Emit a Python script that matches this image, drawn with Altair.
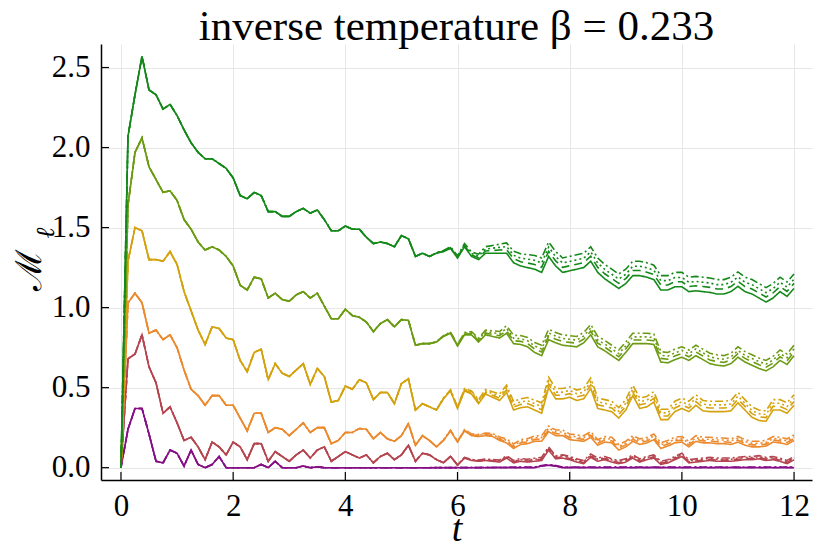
import altair as alt
import numpy as np
import pandas as pd

# time grid (dt = 0.125, 0..12)
dt = 0.125
n_steps = 97
times = [round(k * dt, 4) for k in range(n_steps)]

purple = [0, 0.24, 0.37, 0.37, 0.21, 0.04, 0.03, 0.11, 0.09, 0.01, 0.11, 0.02, 0, 0.02, 0.07, 0, 0, 0, 0, 0,
          0.02, 0, 0.04, 0, 0, 0, 0.01, 0, 0.005, 0, 0, 0, 0, 0,
          0, 0, 0, 0, 0, 0, 0, 0, 0, 0, 0, 0, 0, 0, 0,
          0, 0, 0, 0, 0, 0, 0, 0, 0, 0, 0, 0.01, 0.015, 0.01, 0, 0,
          0, 0, 0, 0, 0, 0, 0, 0, 0, 0, 0, 0, 0, 0, 0, 0, 0,
          0, 0, 0, 0, 0, 0, 0, 0, 0, 0, 0, 0, 0, 0, 0]

rose = [0, 0.68, 0.71, 0.83, 0.63, 0.53, 0.34, 0.38, 0.28, 0.17, 0.19, 0.13, 0.05, 0.16, 0.13, 0.08, 0.16, 0.13,
        0.05, 0.15, 0.15, 0.04, 0.10, 0.07, 0.04, 0.08, 0.11, 0.06, 0.11, 0.13, 0.04, 0.07, 0.10, 0.08,
        0.06, 0.08, 0.03, 0.07, 0.09, 0.05, 0.08, 0.14, 0.04, 0.09, 0.08, 0.05, 0.03, 0.07, 0.015,
        0.06, 0.045, 0.04, 0.045, 0.04, 0.035, 0.06, 0.03, 0.04, 0.035, 0.04, 0.045, 0.11, 0.055, 0.06, 0.05,
        0.035, 0.025, 0.065, 0.04, 0.05, 0.035, 0.025, 0.035, 0.06, 0.035, 0.05, 0.06, 0.02, 0.03, 0.05, 0.07, 0.03,
        0.035, 0.04, 0.045, 0.04, 0.04, 0.04, 0.045, 0.05, 0.05, 0.055, 0.045, 0.05, 0.04, 0.025, 0.05]

orange = [0, 1.03, 1.09, 1.03, 0.84, 0.86, 0.80, 0.83, 0.75, 0.61, 0.49, 0.45, 0.39, 0.45, 0.45, 0.39, 0.39, 0.31,
          0.23, 0.34, 0.34, 0.22, 0.25, 0.24, 0.20, 0.24, 0.28, 0.22, 0.25, 0.25, 0.15, 0.17, 0.22, 0.22,
          0.245, 0.24, 0.18, 0.22, 0.18, 0.165, 0.20, 0.275, 0.14, 0.20, 0.17, 0.13, 0.17, 0.23, 0.16,
          0.23, 0.20, 0.195, 0.20, 0.195, 0.17, 0.155, 0.12, 0.145, 0.15, 0.165, 0.165, 0.225, 0.20, 0.20, 0.175,
          0.17, 0.165, 0.19, 0.14, 0.16, 0.155, 0.11, 0.13, 0.165, 0.145, 0.155, 0.175, 0.12, 0.135, 0.155, 0.16, 0.13,
          0.165, 0.155, 0.155, 0.15, 0.15, 0.145, 0.16, 0.14, 0.13, 0.13, 0.135, 0.16, 0.155, 0.145, 0.17]

gold = [0, 1.29, 1.50, 1.48, 1.30, 1.30, 1.29, 1.35, 1.27, 1.10, 0.98, 0.86, 0.77, 0.88, 0.87, 0.81, 0.80, 0.67,
        0.60, 0.72, 0.74, 0.55, 0.65, 0.59, 0.57, 0.61, 0.65, 0.52, 0.62, 0.57, 0.41, 0.42, 0.51, 0.49,
        0.55, 0.53, 0.425, 0.47, 0.47, 0.40, 0.525, 0.555, 0.36, 0.40, 0.38, 0.36, 0.43, 0.48, 0.37,
        0.48, 0.46, 0.40, 0.46, 0.44, 0.42, 0.47, 0.36, 0.375, 0.38, 0.36, 0.34, 0.50, 0.43, 0.43, 0.44,
        0.42, 0.43, 0.495, 0.37, 0.36, 0.35, 0.31, 0.36, 0.45, 0.37, 0.38, 0.41, 0.30, 0.30, 0.35, 0.37, 0.35,
        0.39, 0.355, 0.35, 0.35, 0.35, 0.355, 0.405, 0.36, 0.315, 0.295, 0.29, 0.36, 0.36, 0.34, 0.39]

olive = [0, 1.64, 1.97, 2.06, 1.88, 1.80, 1.72, 1.73, 1.67, 1.55, 1.49, 1.41, 1.36, 1.38, 1.36, 1.32, 1.26, 1.14,
         1.11, 1.19, 1.18, 1.06, 1.09, 1.05, 1.04, 1.08, 1.10, 1.06, 1.09, 1.01, 0.93, 0.93, 0.99, 0.95,
         0.94, 0.91, 0.85, 0.90, 0.925, 0.88, 0.925, 0.92, 0.765, 0.775, 0.775, 0.785, 0.82, 0.84, 0.76,
         0.83, 0.83, 0.785, 0.83, 0.82, 0.81, 0.84, 0.775, 0.77, 0.755, 0.72, 0.70, 0.80, 0.78, 0.765, 0.76,
         0.755, 0.78, 0.83, 0.755, 0.73, 0.70, 0.67, 0.72, 0.775, 0.775, 0.775, 0.77, 0.66, 0.655, 0.675, 0.69, 0.67,
         0.70, 0.675, 0.65, 0.64, 0.635, 0.65, 0.69, 0.66, 0.64, 0.62, 0.605, 0.63, 0.67, 0.645, 0.70]

green = [0, 2.07, 2.33, 2.57, 2.36, 2.33, 2.24, 2.27, 2.20, 2.11, 2.03, 1.97, 1.93, 1.93, 1.90, 1.87, 1.81, 1.70,
         1.68, 1.72, 1.70, 1.60, 1.60, 1.57, 1.57, 1.60, 1.62, 1.59, 1.61, 1.55, 1.48, 1.48, 1.51, 1.49,
         1.49, 1.44, 1.40, 1.41, 1.40, 1.38, 1.45, 1.43, 1.32, 1.34, 1.32, 1.34, 1.35, 1.37, 1.31,
         1.38, 1.32, 1.30, 1.34, 1.34, 1.34, 1.34, 1.28, 1.26, 1.25, 1.24, 1.22, 1.32, 1.26, 1.22, 1.23,
         1.24, 1.25, 1.29, 1.22, 1.18, 1.15, 1.12, 1.15, 1.20, 1.20, 1.19, 1.175, 1.11, 1.11, 1.13, 1.13, 1.10,
         1.105, 1.10, 1.095, 1.085, 1.085, 1.10, 1.133, 1.10, 1.085, 1.06, 1.035, 1.06, 1.10, 1.07, 1.12]

series_names = ["purple", "rose", "orange", "gold", "olive", "green"]
series_values = [purple, rose, orange, gold, olive, green]
series_colors = ["#860f86", "#b5454f", "#eb8a2e", "#d4a20e", "#6b9b12", "#14891a"]

# separation of the four line styles (they split after t ~ 5.5)
split_amp = [0.004, 0.02, 0.035, 0.065, 0.065, 0.09]
split_knot_t = [5.5, 6.0, 6.5, 7.0, 7.5, 12.0]
split_knot_f = [0.0, 0.15, 0.45, 0.8, 1.0, 1.0]
styles = ["solid", "dashed", "dotted", "dashdot"]
style_frac = [0.0, 0.35, 0.65, 1.0]
style_dash = [[1, 0], [8, 5], [2, 3], [8, 3, 2, 3]]

x_ticks = [0, 2, 4, 6, 8, 10, 12]
y_ticks = [0.0, 0.5, 1.0, 1.5, 2.0, 2.5]

W, H = 711, 436
FONT = "Liberation Serif"
xscale = alt.Scale(domain=[-0.356, 12.32], nice=False, zero=False)
yscale = alt.Scale(domain=[-0.077, 2.647], nice=False, zero=False)
xaxis = alt.Axis(values=x_ticks, title="t", format="d", grid=True, ticks=False,
                 labelPadding=11, labelFontSize=31, titleFontStyle="italic", titleFontSize=38,
                 titleY=60, titleBaseline="alphabetic", titleFontWeight="normal")
yaxis = alt.Axis(values=y_ticks, title=None, format=".1f", grid=True, ticks=False,
                 labelPadding=11, labelFontSize=31)

growth = np.interp(times, split_knot_t, split_knot_f)

layers = []
for name, vals, col, amp in zip(series_names, series_values, series_colors, split_amp):
    rows = []
    for st, fr in zip(styles, style_frac):
        for k in range(n_steps):
            rows.append({"t": times[k], "M": vals[k] + amp * fr * growth[k], "style": st, "k": k})
    df = pd.DataFrame(rows)
    layer = alt.Chart(df).mark_line(strokeWidth=1.6, color=col).encode(
        x=alt.X("t:Q", scale=xscale, axis=xaxis),
        y=alt.Y("M:Q", scale=yscale, axis=yaxis),
        strokeDash=alt.StrokeDash("style:N", scale=alt.Scale(domain=styles, range=style_dash), legend=None),
        order="k:Q",
    )
    layers.append(layer)

ytick_df = pd.DataFrame({"M": y_ticks})
xtick_df = pd.DataFrame({"t": x_ticks})
ytick_layer = alt.Chart(ytick_df).mark_rule(color="black", strokeWidth=1.2).encode(
    y=alt.Y("M:Q", scale=yscale, axis=yaxis), x=alt.value(0), x2=alt.value(8))
xtick_layer = alt.Chart(xtick_df).mark_rule(color="black", strokeWidth=1.2).encode(
    x=alt.X("t:Q", scale=xscale, axis=xaxis), y=alt.value(H), y2=alt.value(H - 8))

ylab_df = pd.DataFrame({"txt": ["ℳ"]})
ysub_df = pd.DataFrame({"txt": ["ℓ"]})
ylab = alt.Chart(ylab_df).mark_text(font=FONT, fontSize=36, angle=270,
                                    color="black", align="center", baseline="middle").encode(
    text="txt:N", x=alt.value(-71), y=alt.value(226))
ysub = alt.Chart(ysub_df).mark_text(font=FONT, fontSize=26, angle=270, fontStyle="italic",
                                    color="black", align="center", baseline="middle").encode(
    text="txt:N", x=alt.value(-55), y=alt.value(189))

chart = alt.layer(*layers, ytick_layer, xtick_layer, ylab, ysub).properties(
    width=W, height=H,
    background="white",
    title=alt.TitleParams("inverse temperature β = 0.233", font=FONT, fontSize=43,
                          fontWeight="normal", color="black", anchor="middle",
                          offset=0, dy=5),
    autosize=alt.AutoSizeParams(type="none"),
    padding={"left": 93, "top": 36, "right": 10, "bottom": 66},
).configure_axis(
    labelFont=FONT, labelFontSize=31, labelColor="black",
    titleFont=FONT, titleColor="black",
    domainColor="black", domainWidth=1.5,
    gridColor="#e6e6e6", gridWidth=1,
).configure_view(strokeWidth=0)

chart.save("out.html", embed_options={"renderer": "svg", "actions": False})
